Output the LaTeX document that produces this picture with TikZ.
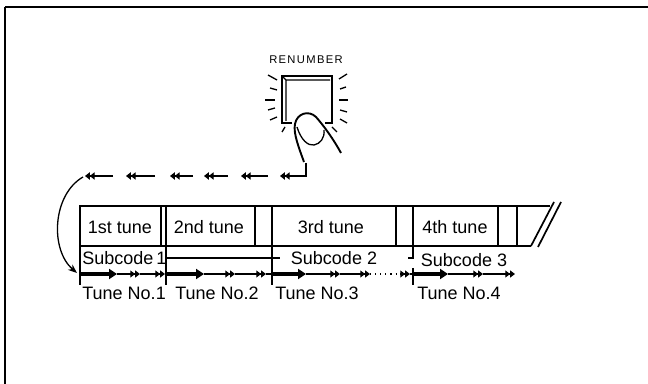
\documentclass[tikz,border=0pt]{standalone}
\usepackage{fontspec}
\setmainfont{Liberation Sans}
\newfontfamily\keyfont[LetterSpace=12]{Liberation Sans}
\usetikzlibrary{arrows.meta}

\begin{document}
\begin{tikzpicture}[x=0.5pt,y=-0.5pt,
    txt/.style={font=\fontsize{9}{10}\selectfont,inner sep=0pt},
    rim/.style={line width=0.85pt},
    ray/.style={line width=0.65pt},
    back/.style={line width=0.7pt,-{Triangle[length=2.4pt,width=3.6pt]Triangle[length=2.4pt,width=3.6pt]}},
    fwd/.style={line width=0.55pt,-{Triangle[length=2.4pt,width=3.4pt]Triangle[length=2.4pt,width=3.4pt]}},
    lead/.style={line width=2.4pt,-{Triangle[length=4pt,width=5pt]}}]
    \useasboundingbox (0,0) rectangle (648,384);

    % frame
    \draw[line width=0.9pt] (5,384) -- (5,7);
    \draw[line width=0.6pt] (5,7) -- (648,7);

    % RENUMBER key
    \node[font=\keyfont\fontsize{5.6}{6}\selectfont,inner sep=0pt] (renum) at (306,60) {RENUMBER};
    \draw[line width=1.3pt] (292,123) -- (282,123) -- (282,76) -- (332,76) -- (332,123) -- (325,123);
    \draw[ray] (286,121) -- (286,80) -- (330,80) (282,76) -- (286,80);
    \foreach \a/\b/\c/\d in {268/75/277/80,270/88/277/90,265/100/275/100,268/110/275/108,270/120/277/117,282/132/285/127,
                             339/79/347/74,340/89/346/87,339/100/348/100,340/110/347/112,340/119/347/123,332/127/337/132}
        \draw[ray] (\a,\b) -- (\c,\d);

    % finger
    \draw[line width=0.95pt] (304,162) .. controls (299,148) and (293,133) .. (295,124)
        .. controls (297,113) and (309,110) .. (316,117) .. controls (324,126) and (334,140) .. (341,153);
    \draw[line width=0.65pt] (297,127) .. controls (301,140) and (308,146) .. (314,145)
        .. controls (320,144) and (325,138) .. (324,130);

    % renumbering run back to the start
    \coordinate (press) at (306,163);
    \draw[back] (press) |- (280,176);
    \foreach \a/\b in {85/113,126/155,170/193,204/228,241/268}
        \draw[back] (\b,176) -- (\a,176);
    \draw[line width=0.65pt,-{Stealth[length=4.5pt,width=3.5pt]}] (83,177) .. controls (52,195) and (50,250) .. (77,273);

    % tape
    \draw[rim] (550,206) -- (80,206) -- (80,285);
    \draw[rim] (80,246) -- (531,246);
    \draw[rim] (531,246) -- (554,202) (538,247) -- (561,202);
    \foreach \x in {161,255,396,498,517}
        \draw[rim] (\x,206) -- (\x,246);
    \draw[rim] (166,206) -- (166,285) (272,206) -- (272,285);
    \draw[rim] (413,206) -- (413,259) (413,268) -- (413,285);
    \draw[line width=0.65pt] (166,258) -- (280,258) (408,258) -- (413,258);

    \node[txt] (tune1) at (120,227) {1st tune};
    \node[txt] (tune2) at (209,227) {2nd tune};
    \node[txt] (tune3) at (331,227) {3rd tune};
    \node[txt] (tune4) at (455,227) {4th tune};
    \node[txt,anchor=west] (sub1) at (82,258) {Subcode\kern-1pt{} 1};
    \node[txt] (sub2) at (334,258) {Subcode 2};
    \node[txt] (sub3) at (464,260) {Subcode 3};

    % tune numbers
    \foreach \s/\h/\p/\q in {80/117/140/165,166/204/235/266,272/306/340/370,413/448/483/515} {
        \draw[lead] (\s,274) -- (\h,274);
        \draw[fwd] (\h,274) -- (\p,274);
        \draw[fwd] (\p,274) -- (\q,274);
    }
    \draw[line width=0.55pt] (266,274) -- (272,274);
    \draw[line width=0.55pt,dotted] (370,274) -- (400,274);
    \draw[fwd] (400,274) -- (410,274);
    \draw[line width=0.55pt] (410,274) -- (413,274);

    \node[txt,anchor=west] (no1) at (82,293) {Tune No.1};
    \node[txt] (no2) at (217,293) {Tune No.2};
    \node[txt] (no3) at (317,293) {Tune No.3};
    \node[txt] (no4) at (459,293) {Tune No.4};
\end{tikzpicture}
\end{document}
